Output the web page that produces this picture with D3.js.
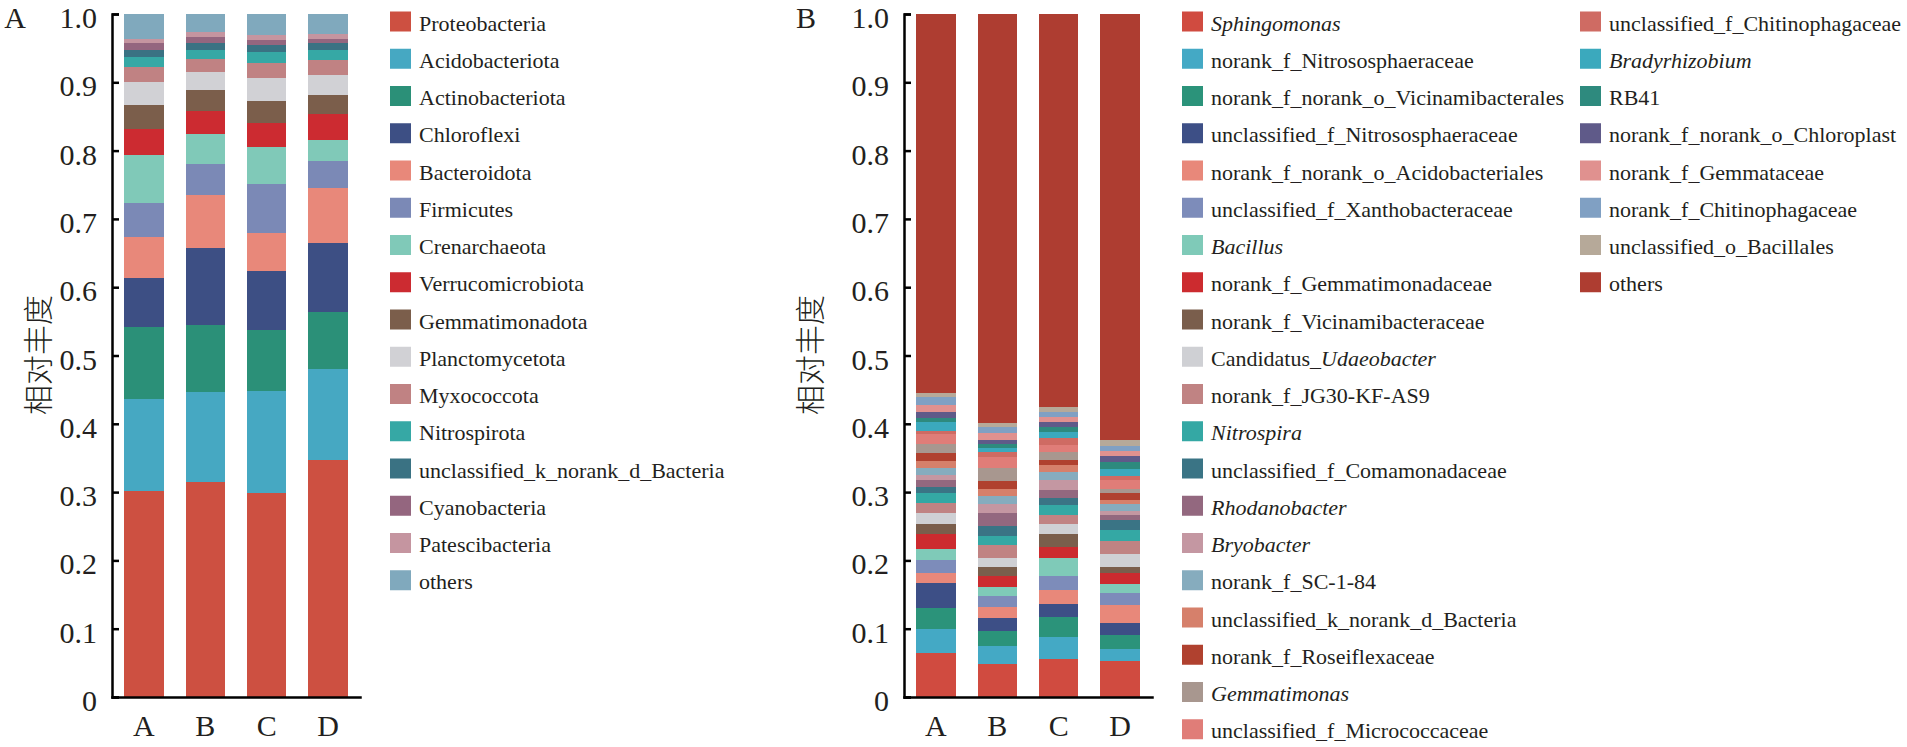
<!DOCTYPE html>
<html>
<head>
<meta charset="utf-8">
<script src="https://cdn.jsdelivr.net/npm/d3@7"></script>
<style>
body { margin: 0; background: #fff; }
text { font-family: "Liberation Serif", "Times New Roman", serif; fill: #231f20; }
</style>
</head>
<body>
<script>
// amostras
const amostras = ["A", "B", "C", "D"];

// painel A - filos (de baixo para cima)
const filos = ["Proteobacteria", "Acidobacteriota", "Actinobacteriota", "Chloroflexi", "Bacteroidota",
    "Firmicutes", "Crenarchaeota", "Verrucomicrobiota", "Gemmatimonadota", "Planctomycetota",
    "Myxococcota", "Nitrospirota", "unclassified_k_norank_d_Bacteria", "Cyanobacteria",
    "Patescibacteria", "others"];
const filoA = [0.302, 0.134, 0.106, 0.072, 0.059, 0.050, 0.071, 0.038, 0.035, 0.033, 0.022, 0.015, 0.010, 0.010, 0.007, 0.036];
const filoB = [0.315, 0.131, 0.099, 0.113, 0.077, 0.046, 0.043, 0.034, 0.030, 0.027, 0.019, 0.014, 0.010, 0.008, 0.007, 0.027];
const filoC = [0.299, 0.149, 0.090, 0.085, 0.057, 0.071, 0.055, 0.034, 0.032, 0.034, 0.022, 0.017, 0.010, 0.007, 0.007, 0.031];
const filoD = [0.347, 0.133, 0.084, 0.101, 0.080, 0.040, 0.030, 0.038, 0.028, 0.030, 0.022, 0.014, 0.010, 0.007, 0.007, 0.029];

// painel B - generos (de baixo para cima)
const generos = ["Sphingomonas", "norank_f_Nitrososphaeraceae", "norank_f_norank_o_Vicinamibacterales",
    "unclassified_f_Nitrososphaeraceae", "norank_f_norank_o_Acidobacteriales", "unclassified_f_Xanthobacteraceae",
    "Bacillus", "norank_f_Gemmatimonadaceae", "norank_f_Vicinamibacteraceae", "Candidatus_Udaeobacter",
    "norank_f_JG30-KF-AS9", "Nitrospira", "unclassified_f_Comamonadaceae", "Rhodanobacter", "Bryobacter",
    "norank_f_SC-1-84", "unclassified_k_norank_d_Bacteria", "norank_f_Roseiflexaceae", "Gemmatimonas",
    "unclassified_f_Micrococcaceae", "unclassified_f_Chitinophagaceae", "Bradyrhizobium", "RB41",
    "norank_f_norank_o_Chloroplast", "norank_f_Gemmataceae", "norank_f_Chitinophagaceae",
    "unclassified_o_Bacillales", "others"];
const generoA = [0.065, 0.034, 0.032, 0.036, 0.015, 0.019, 0.016, 0.021, 0.016, 0.015, 0.015, 0.015, 0.009, 0.010,
    0.007, 0.010, 0.010, 0.012, 0.013, 0.015, 0.005, 0.012, 0.007, 0.009, 0.009, 0.012, 0.006, 0.555];
const generoB = [0.049, 0.026, 0.022, 0.018, 0.017, 0.016, 0.013, 0.016, 0.014, 0.013, 0.019, 0.012, 0.015, 0.020,
    0.012, 0.012, 0.010, 0.012, 0.020, 0.015, 0.007, 0.007, 0.006, 0.006, 0.009, 0.009, 0.006, 0.599];
const generoC = [0.056, 0.032, 0.029, 0.019, 0.020, 0.021, 0.026, 0.017, 0.019, 0.014, 0.013, 0.015, 0.010, 0.012,
    0.015, 0.012, 0.010, 0.007, 0.012, 0.010, 0.010, 0.009, 0.007, 0.008, 0.007, 0.007, 0.008, 0.575];
const generoD = [0.053, 0.017, 0.021, 0.017, 0.027, 0.017, 0.013, 0.016, 0.010, 0.019, 0.019, 0.015, 0.015, 0.007,
    0.007, 0.010, 0.005, 0.010, 0.007, 0.012, 0.007, 0.010, 0.010, 0.009, 0.007, 0.007, 0.009, 0.624];

// nomes escritos em italico na legenda
const generosItalico = ["Sphingomonas", "Bacillus", "Nitrospira", "Rhodanobacter", "Bryobacter",
    "Gemmatimonas", "Bradyrhizobium", "Udaeobacter"];

const ticksY = [0, 0.1, 0.2, 0.3, 0.4, 0.5, 0.6, 0.7, 0.8, 0.9, 1.0];

// cores
const coresFilo = ["#cd5041", "#46a8c2", "#2b9078", "#3d4f84", "#e8887a", "#7b89b6", "#80c9b8", "#cc2b31",
    "#7b5e4b", "#d1d1d5", "#c08283", "#36a8a5", "#3a7283", "#94667f", "#c595a0", "#80a9bd"];
const coresGenero = ["#d04b40", "#44a9c5", "#2b937a", "#3d4f86", "#e8887a", "#7d8cba", "#7fcab8", "#cc2b2f",
    "#7a5e4c", "#cfd0d4", "#c08383", "#34a8a4", "#3a7485", "#93687f", "#c497a2", "#86acbe", "#d6806b",
    "#b0412f", "#a8978f", "#e07d78", "#cf6b63", "#3ba9bd", "#2e8a7e", "#5f5a89", "#e0918f", "#80a0c3",
    "#b6a999", "#ae3d31"];

const largura = 1907, altura = 747;
const svg = d3.select("body").append("svg")
    .attr("width", largura)
    .attr("height", altura)
    .style("font-family", "'Liberation Serif', 'Times New Roman', serif");

const y = d3.scaleLinear().domain([0, 1]).range([697, 14]);

function montarTabela(nomes, linhas) {
    return amostras.map((amostra, i) => {
        const linha = { amostra: amostra };
        nomes.forEach((nome, j) => { linha[nome] = linhas[i][j]; });
        return linha;
    });
}

function escreverRotulo(texto, nome) {
    if (nome.startsWith("Candidatus_")) {
        texto.append("tspan").text("Candidatus_");
        texto.append("tspan").style("font-style", "italic").text(nome.slice(11));
    } else if (generosItalico.includes(nome)) {
        texto.append("tspan").style("font-style", "italic").text(nome);
    } else {
        texto.text(nome);
    }
}

function desenharPainel(letra, x0, nomes, linhas, cores, legX, porColuna, colLarg, tituloX) {
    const g = svg.append("g");
    const x = d3.scaleBand().domain(amostras).range([x0, x0 + 248])
        .paddingInner(0.36).paddingOuter(0.2);

    const cor = d3.scaleOrdinal().domain(nomes).range(cores);
    const series = d3.stack().keys(nomes)(montarTabela(nomes, linhas));

    // barras empilhadas
    g.selectAll("g.serie")
        .data(series)
        .join("g")
        .attr("class", "serie")
        .attr("fill", d => cor(d.key))
        .selectAll("rect")
        .data(d => d)
        .join("rect")
        .attr("x", d => x(d.data.amostra))
        .attr("width", x.bandwidth())
        .attr("y", d => y(d[1]))
        .attr("height", d => y(d[0]) - y(d[1]))
        .attr("shape-rendering", "crispEdges");

    // eixo y
    const eixoY = g.append("g")
        .attr("transform", "translate(" + x0 + ",0)")
        .call(d3.axisLeft(y)
            .tickValues(ticksY)
            .tickFormat(d => d === 0 ? "0" : d3.format(".1f")(d))
            .tickSizeInner(-7)
            .tickSizeOuter(-7)
            .tickPadding(15));
    eixoY.attr("font-size", null).attr("font-family", null);
    eixoY.selectAll("text").style("font-size", "30px").attr("dy", "0.45em");
    eixoY.selectAll("path, line").attr("stroke", "#000").attr("stroke-width", 2.5);

    // eixo x
    const eixoX = g.append("g")
        .attr("transform", "translate(0," + y(0) + ")")
        .call(d3.axisBottom(x).tickSize(0).tickPadding(18));
    eixoX.attr("font-size", null).attr("font-family", null);
    eixoX.selectAll("text").style("font-size", "30px");
    eixoX.select(".domain").attr("stroke", "#000").attr("stroke-width", 2.5)
        .attr("stroke-linecap", "square");

    // titulo do eixo
    g.append("text")
        .attr("transform", "translate(" + tituloX + ",355) rotate(-90)")
        .attr("text-anchor", "middle")
        .attr("dominant-baseline", "central")
        .style("font-family", "'Noto Sans CJK SC', sans-serif")
        .style("font-weight", 300)
        .style("font-size", "30px")
        .text("相对丰度");

    // letra do painel
    g.append("text")
        .attr("x", letra === "A" ? 15 : 806)
        .attr("y", 28)
        .attr("text-anchor", "middle")
        .style("font-size", "30px")
        .text(letra);

    // legenda
    const itens = g.selectAll("g.item")
        .data(nomes)
        .join("g")
        .attr("class", "item")
        .attr("transform", (d, i) => "translate(" + (legX + Math.floor(i / porColuna) * colLarg) + "," +
            (21.5 + (i % porColuna) * 37.25) + ")");
    itens.append("rect")
        .attr("x", 0).attr("y", -10)
        .attr("width", 21).attr("height", 20)
        .attr("fill", d => cor(d));
    itens.append("text")
        .attr("x", 29)
        .attr("y", 9)
        .style("font-size", "22px")
        .each(function (d) { escreverRotulo(d3.select(this), d); });
}

desenharPainel("A", 112, filos, [filoA, filoB, filoC, filoD], coresFilo, 390, 16, 0, 36);
desenharPainel("B", 904, generos, [generoA, generoB, generoC, generoD], coresGenero, 1182, 20, 398, 808);
</script>
</body>
</html>
